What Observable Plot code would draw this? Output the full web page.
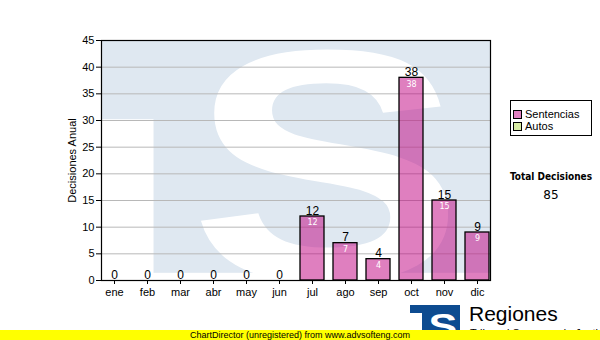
<!DOCTYPE html>
<html>
<head>
<meta charset="utf-8">
<script src="https://cdn.jsdelivr.net/npm/d3@7"></script>
<script src="https://cdn.jsdelivr.net/npm/@observablehq/plot@0.6"></script>
<style>
  html, body { margin: 0; padding: 0; background: #fff; }
  #wrap { position: relative; width: 600px; height: 340px; overflow: hidden; background: #fff; }
  #chart { position: absolute; left: 0; top: 0; }
  .legend { position: absolute; left: 510px; top: 100px; width: 82px; height: 36px; border: 1px solid #000; box-sizing: border-box; font-family: "Liberation Sans", Arial, sans-serif; font-size: 11px; }
  .legend .item { position: absolute; left: 2px; height: 12px; line-height: 12px; white-space: nowrap; }
  .legend .sw { display: inline-block; width: 7px; height: 7px; border: 1px solid #000; vertical-align: -1px; margin-right: 3px; }
  .total { position: absolute; left: 500px; width: 102px; text-align: center; font-family: "DejaVu Sans", Verdana, sans-serif; }
  .yellow { position: absolute; left: 0; top: 330px; width: 600px; height: 10px; background: #ffff00; z-index: 5; font-family: "Liberation Sans", Arial, sans-serif; font-size: 9px; line-height: 10px; }
  .yellow span { position: absolute; left: 190px; top: 0px; white-space: nowrap; }
  .logo { position: absolute; left: 410px; top: 305px; width: 50px; height: 35px; background: #0d4b90; overflow: hidden; }
  .regiones { position: absolute; left: 469px; top: 302px; font-family: "Liberation Sans", Arial, sans-serif; font-size: 21px; white-space: nowrap; }
  .sub { position: absolute; left: 470px; top: 327px; font-family: "Liberation Sans", Arial, sans-serif; font-size: 11px; white-space: nowrap; }
</style>
</head>
<body>
<div id="wrap">
  <div id="chart"></div>
  <div class="legend">
    <div class="item" style="top:7px"><span class="sw" style="background:#e080c0"></span>Sentencias</div>
    <div class="item" style="top:19px"><span class="sw" style="background:#d8eca4"></span>Autos</div>
  </div>
  <div class="total" id="totalTitle" style="top:171px; font-size:10px; font-weight:bold; font-family:'DejaVu Sans Condensed','DejaVu Sans',sans-serif;"></div>
  <div class="total" id="totalValue" style="top:188px; font-size:12px;"></div>
  <div class="logo">
    <svg width="50" height="35">
      <rect x="0" y="8" width="12" height="27" fill="#fff"></rect>
      <text x="33" y="33" text-anchor="middle" font-family="Liberation Sans, Arial" font-weight="bold" font-size="36" fill="#fff" transform="translate(33,0) scale(1.2,1) translate(-33,0)">S</text>
    </svg>
  </div>
  <div class="regiones">Regiones</div>
  <div class="sub">Tribunal Supremo de Justicia</div>
  <div class="yellow"><span>ChartDirector (unregistered) from www.advsofteng.com</span></div>
</div>
<script>
const months = ["ene","feb","mar","abr","may","jun","jul","ago","sep","oct","nov","dic"];
const sentencias = [0,0,0,0,0,0,12,7,4,38,15,9];
const seriesNames = ["Sentencias","Autos"];
const yTicks = [0,5,10,15,20,25,30,35,40,45];
const gridTicks = [5,10,15,20,25,30,35,40];
const totalLabel = "Total Decisiones";
const totalValue = 85;

const data = months.map((m, i) => ({month: m, value: sentencias[i]}));

document.getElementById("totalTitle").textContent = totalLabel;
document.getElementById("totalValue").textContent = totalValue;

function watermark(index, scales, values, dim) {
  const ml = dim.marginLeft, mt = dim.marginTop;
  const w = dim.width - dim.marginLeft - dim.marginRight;
  const h = dim.height - dim.marginTop - dim.marginBottom;
  const g = d3.create("svg:g");
  g.append("clipPath").attr("id", "wmclip")
    .append("rect").attr("x", ml).attr("y", mt).attr("width", w).attr("height", h);
  const c = g.append("g").attr("clip-path", "url(#wmclip)");
  c.append("rect").attr("x", ml).attr("y", mt).attr("width", w).attr("height", h).attr("fill", "#dfe8f1");
  c.append("rect").attr("x", ml).attr("y", mt + 0.33 * h).attr("width", 0.135 * w).attr("height", h).attr("fill", "#fff");
  c.append("rect").attr("x", ml).attr("y", mt + 0.97 * h).attr("width", w).attr("height", h).attr("fill", "#fff");
  c.append("text").text("S")
    .attr("transform", `translate(${ml + 0.58 * w},${mt + 1.0 * h}) scale(1.25,1)`)
    .attr("text-anchor", "middle")
    .attr("font-family", "Liberation Sans, Arial, sans-serif")
    .attr("font-weight", "bold")
    .attr("font-size", 330)
    .attr("fill", "#fff");
  return g.node();
}

const chart = Plot.plot({
  width: 600,
  height: 330,
  marginLeft: 101,
  marginRight: 110,
  marginTop: 40,
  marginBottom: 50,
  style: {fontFamily: "Liberation Sans, Arial, sans-serif", fontSize: "11px", background: "transparent", color: "#000"},
  x: {domain: months, paddingInner: 0.27, paddingOuter: 0.0},
  y: {domain: [0, 45]},
  marks: [
    watermark,
    Plot.ruleY(gridTicks, {stroke: "#b8b8b8", strokeWidth: 1}),
    Plot.barY(data, {x: "month", y: "value", filter: d => d.value > 0, fill: "#c00080", fillOpacity: 0.5, stroke: "#000", strokeWidth: 1.3}),
    Plot.text(data, {x: "month", y: "value", text: d => String(d.value), lineAnchor: "bottom", dy: -2, fontSize: 12, fill: "#000"}),
    Plot.text(data, {x: "month", y: "value", filter: d => d.value > 0, text: d => String(d.value), lineAnchor: "top", dy: 3, fontSize: 8, fontFamily: "DejaVu Sans, Verdana, sans-serif", fill: "#fff"}),
    Plot.frame({stroke: "#000", strokeWidth: 1.2}),
    Plot.axisX({tickSize: 4, tickPadding: 4, label: null, fontSize: 11}),
    Plot.axisY({ticks: yTicks, tickSize: 5, tickPadding: 2, fontSize: 11, label: "Decisiones Anual", labelAnchor: "center", labelOffset: 33, labelArrow: "none"})
  ]
});
document.getElementById("chart").appendChild(chart);
</script>
</body>
</html>
